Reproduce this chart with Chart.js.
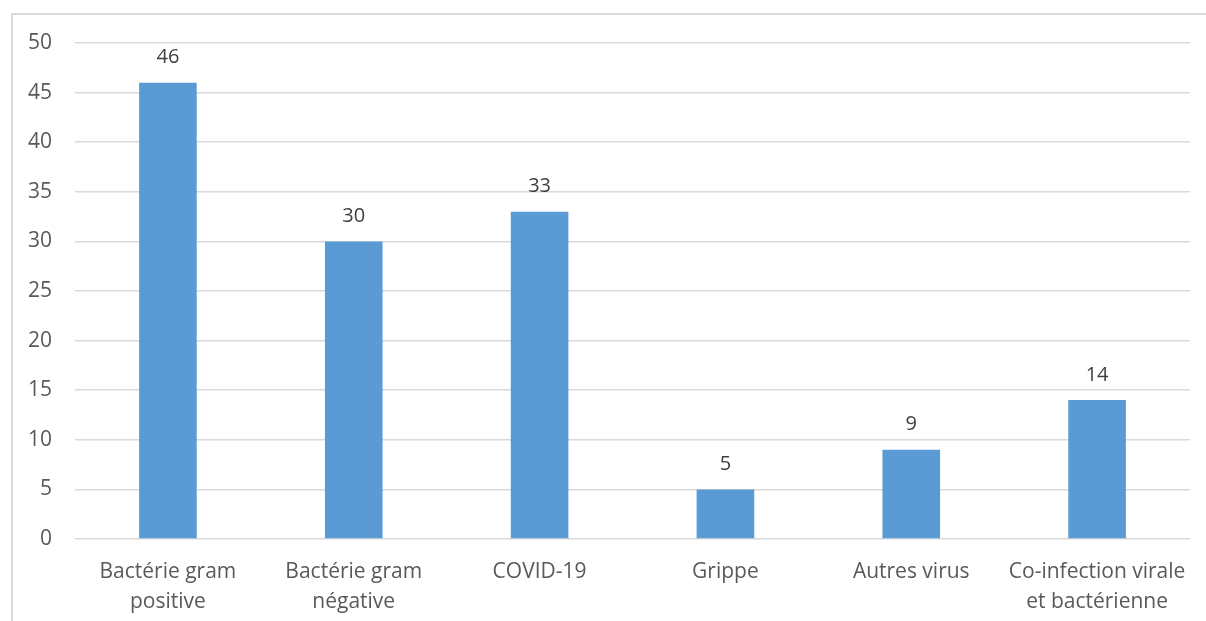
<!DOCTYPE html>
<html>
<head>
<meta charset="utf-8">
<script src="https://cdn.jsdelivr.net/npm/chart.js@4/dist/chart.umd.min.js"></script>
<style>
	html, body { margin: 0; padding: 0; background: #fff; }
	#frame { position: absolute; left: 11px; top: 13px; width: 1200px; height: 620px; border-left: 2px solid #d9d9d9; border-top: 2px solid #d9d9d9; }
	#wrap { position: absolute; left: 0; top: 0; width: 1206px; height: 621px; }
</style>
</head>
<body>
<div id="frame"></div>
<div id="wrap"><canvas id="chart"></canvas></div>
<script>
var categories = [
	["Bactérie gram", "positive"],
	["Bactérie gram", "négative"],
	"COVID-19",
	"Grippe",
	"Autres virus",
	["Co-infection virale", "et bactérienne"]
];
var counts = [46, 30, 33, 5, 9, 14];
var yTicks = [0, 5, 10, 15, 20, 25, 30, 35, 40, 45, 50];

var textColor = "#595959";
var fontFamily = "'Open Sans', 'Liberation Sans', sans-serif";

// valeurs au-dessus des barres
var valueLabels = {
	id: "valueLabels",
	afterDatasetsDraw: function(chart){
		var ctx = chart.ctx;
		var meta = chart.getDatasetMeta(0);
		ctx.save();
		ctx.fillStyle = "#404040";
		ctx.font = "20px " + fontFamily;
		ctx.textAlign = "center";
		ctx.textBaseline = "middle";
		meta.data.forEach(function(bar, i){
			ctx.fillText(String(counts[i]), bar.x, bar.y - 25);
		});
		ctx.restore();
	}
};

new Chart(document.getElementById("chart"), {
	type: "bar",
	data: {
		labels: categories,
		datasets: [{
			data: counts,
			backgroundColor: "#5b9bd5",
			borderWidth: 0,
			barPercentage: 0.31,
			categoryPercentage: 1
		}]
	},
	options: {
		responsive: true,
		maintainAspectRatio: false,
		animation: false,
		layout: { padding: { top: 43, right: 16, left: 0, bottom: 0 } },
		plugins: { legend: { display: false }, tooltip: { enabled: false } },
		scales: {
			x: {
				grid: { display: false },
				border: { display: false },
				ticks: {
					color: textColor,
					font: { size: 21, family: fontFamily, lineHeight: 1.43 },
					padding: 10,
					maxRotation: 0,
					autoSkip: false
				},
				afterFit: function(scale){ scale.height = 82; }
			},
			y: {
				min: 0,
				max: 50,
				afterBuildTicks: function(scale){
					scale.ticks = yTicks.map(function(v){ return { value: v }; });
				},
				grid: { color: "#d9d9d9", lineWidth: 1.5, drawTicks: false },
				border: { display: false },
				ticks: {
					color: textColor,
					font: { size: 21, family: fontFamily },
					padding: 23
				},
				afterFit: function(scale){ scale.width = 75; }
			}
		}
	},
	plugins: [valueLabels]
});
</script>
</body>
</html>
